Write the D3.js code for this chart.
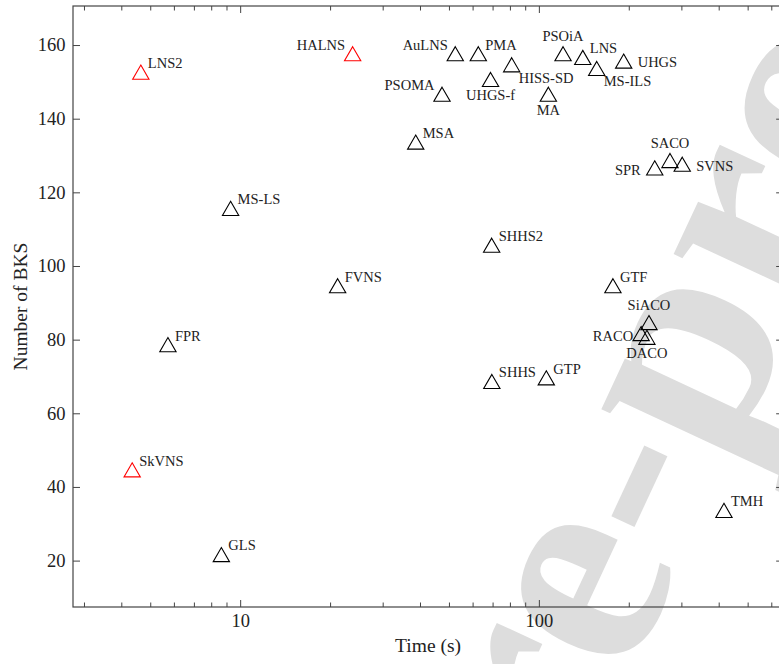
<!DOCTYPE html>
<html>
<head>
<meta charset="utf-8">
<script src="https://cdn.jsdelivr.net/npm/d3@7/dist/d3.min.js"></script>
<style>
  html, body { margin: 0; padding: 0; background: #fff; }
  svg { display: block; }
</style>
</head>
<body>
<svg id="chart" width="779" height="664"></svg>
<script>
// ---------------- data ----------------
const names = ["LNS2","SkVNS","HALNS","FPR","MS-LS","GLS","FVNS","MSA","PSOMA","AuLNS",
               "PMA","UHGS-f","HISS-SD","SHHS2","SHHS","MA","GTP","PSOiA","LNS","MS-ILS",
               "UHGS","GTF","SPR","SACO","SVNS","SiACO","RACO","DACO","TMH"];
const times = [4.65, 4.35, 23.8, 5.73, 9.29, 8.65, 21.2, 38.7, 47.4, 52.5,
               62.7, 68.9, 81.1, 69.5, 69.6, 107.6, 105.9, 120.5, 140.3, 156.2,
               192.3, 177, 244.3, 274.8, 302, 233.7, 220, 230, 416.6];
const bks   = [152, 44, 157, 78, 115, 21, 94, 133, 146, 157,
               157, 150, 154, 105, 68, 146, 69, 157, 156, 153,
               155, 94, 126, 128, 127, 84, 81, 80, 33];
const proposed = [true, true, true, false, false, false, false, false, false, false,
                  false, false, false, false, false, false, false, false, false, false,
                  false, false, false, false, false, false, false, false, false];
// label placement (pgfplots-like compass anchors)
const labelPos = ["ne","ne","nw","ne","ne","ne","ne","ne","nw","nw",
                  "ne","s","se","ne","ne","s","ne","n","ne","se",
                  "e","ne","w","n","e","n","w2","s","ne"];
const xMajorTicks = [10, 100];
const xMinorTicks = [3,4,5,6,7,8,9,20,30,40,50,60,70,80,90,200,300,400,500,600];
const yTicks = [20, 40, 60, 80, 100, 120, 140, 160];
const xTitle = "Time (s)";
const yTitle = "Number of BKS";
const watermark = "Journal Pre-proof";

// ---------------- layout ----------------
const svg = d3.select("#chart");
const L = 73, T = 6, B = 607;
const decade = 298.7;

// pgfplots-style 10% enlargement of limits
const lx0 = Math.log10(d3.min(times)), lx1 = Math.log10(d3.max(times));
const ex = (lx1 - lx0) * 0.1;
const xDom = [Math.pow(10, lx0 - ex), Math.pow(10, lx1 + ex)];
const R = L + (Math.log10(xDom[1]) - Math.log10(xDom[0])) * decade;
const y0 = d3.min(bks), y1 = d3.max(bks), ey = (y1 - y0) * 0.1;

const x = d3.scaleLog().domain(xDom).range([L, R]);
const y = d3.scaleLinear().domain([y0 - ey, y1 + ey]).range([B, T]);

// ---------------- watermark ----------------
const wm = svg.append("text")
  .attr("font-family", "'Liberation Serif', serif")
  .attr("font-weight", "bold")
  .attr("font-size", 300)
  .attr("fill", "#dddddd")
  .text(watermark);
const wmIdx = watermark.indexOf("e-proof");
const wmOff = wm.node().getSubStringLength(0, wmIdx);
wm.attr("transform", `translate(626,682) rotate(-65) translate(${-wmOff},0)`);

// ---------------- axes ----------------
const font = "'Liberation Serif', 'Times New Roman', serif";
const axisColor = "#444";

function styleAxis(g) {
  g.select(".domain").remove();
  g.selectAll(".tick line").attr("stroke", axisColor).attr("stroke-width", 1);
  g.selectAll(".tick text").attr("font-family", font).attr("font-size", 18.5).attr("fill", "#222");
}

// bottom
svg.append("g").attr("transform", `translate(0,${B})`)
  .call(d3.axisBottom(x).tickValues(xMajorTicks).tickFormat(d3.format("d"))
        .tickSizeInner(-7).tickSizeOuter(0).tickPadding(6.5))
  .call(styleAxis);
svg.append("g").attr("transform", `translate(0,${B})`)
  .call(d3.axisBottom(x).tickValues(xMinorTicks).tickFormat("")
        .tickSizeInner(-4.5).tickSizeOuter(0))
  .call(styleAxis);
// top
svg.append("g").attr("transform", `translate(0,${T})`)
  .call(d3.axisTop(x).tickValues(xMajorTicks).tickFormat("")
        .tickSizeInner(-7).tickSizeOuter(0))
  .call(styleAxis);
svg.append("g").attr("transform", `translate(0,${T})`)
  .call(d3.axisTop(x).tickValues(xMinorTicks).tickFormat("")
        .tickSizeInner(-4.5).tickSizeOuter(0))
  .call(styleAxis);
// left
svg.append("g").attr("transform", `translate(${L},0)`)
  .call(d3.axisLeft(y).tickValues(yTicks).tickFormat(d3.format("d"))
        .tickSizeInner(-7).tickSizeOuter(0).tickPadding(7.5))
  .call(styleAxis);
// right
svg.append("g").attr("transform", `translate(${R},0)`)
  .call(d3.axisRight(y).tickValues(yTicks).tickFormat("")
        .tickSizeInner(-7).tickSizeOuter(0))
  .call(styleAxis);

// frame
svg.append("rect")
  .attr("x", L).attr("y", T).attr("width", R - L).attr("height", B - T)
  .attr("fill", "none").attr("stroke", axisColor).attr("stroke-width", 1.2);

// titles
svg.append("text")
  .attr("x", (L + R) / 2).attr("y", 652)
  .attr("text-anchor", "middle")
  .attr("font-family", font).attr("font-size", 19.5).attr("fill", "#222")
  .text(xTitle);
svg.append("text")
  .attr("transform", `translate(26.5,${(T + B) / 2}) rotate(-90)`)
  .attr("text-anchor", "middle")
  .attr("font-family", font).attr("font-size", 19.5).attr("fill", "#222")
  .text(yTitle);

// ---------------- marks ----------------
const data = names.map((n, i) => ({ name: n, t: times[i], v: bks[i], red: proposed[i], pos: labelPos[i] }));
const tri = d3.symbol().type(d3.symbolTriangle).size(115);

svg.append("g").selectAll("path").data(data).join("path")
  .attr("d", tri)
  .attr("transform", d => `translate(${x(d.t)},${y(d.v)})`)
  .attr("fill", "none")
  .attr("stroke", d => d.red ? "#ff0000" : "#000")
  .attr("stroke-width", 1.1);

const place = {
  ne: { dx: 7, dy: -6.5, a: "start" },
  nw: { dx: -7.5, dy: -6.5, a: "end" },
  n:  { dx: 0, dy: -15, a: "middle" },
  s:  { dx: 0, dy: 18, a: "middle" },
  se: { dx: 7, dy: 15.5, a: "start" },
  e:  { dx: 14, dy: 4, a: "start" },
  w:  { dx: -14, dy: 4.5, a: "end" },
  w2: { dx: -8, dy: 5, a: "end" }
};

svg.append("g").selectAll("text").data(data).join("text")
  .attr("x", d => x(d.t) + place[d.pos].dx)
  .attr("y", d => y(d.v) + place[d.pos].dy)
  .attr("text-anchor", d => place[d.pos].a)
  .attr("font-family", font).attr("font-size", 14.5).attr("fill", "#222")
  .text(d => d.name);
</script>
</body>
</html>
